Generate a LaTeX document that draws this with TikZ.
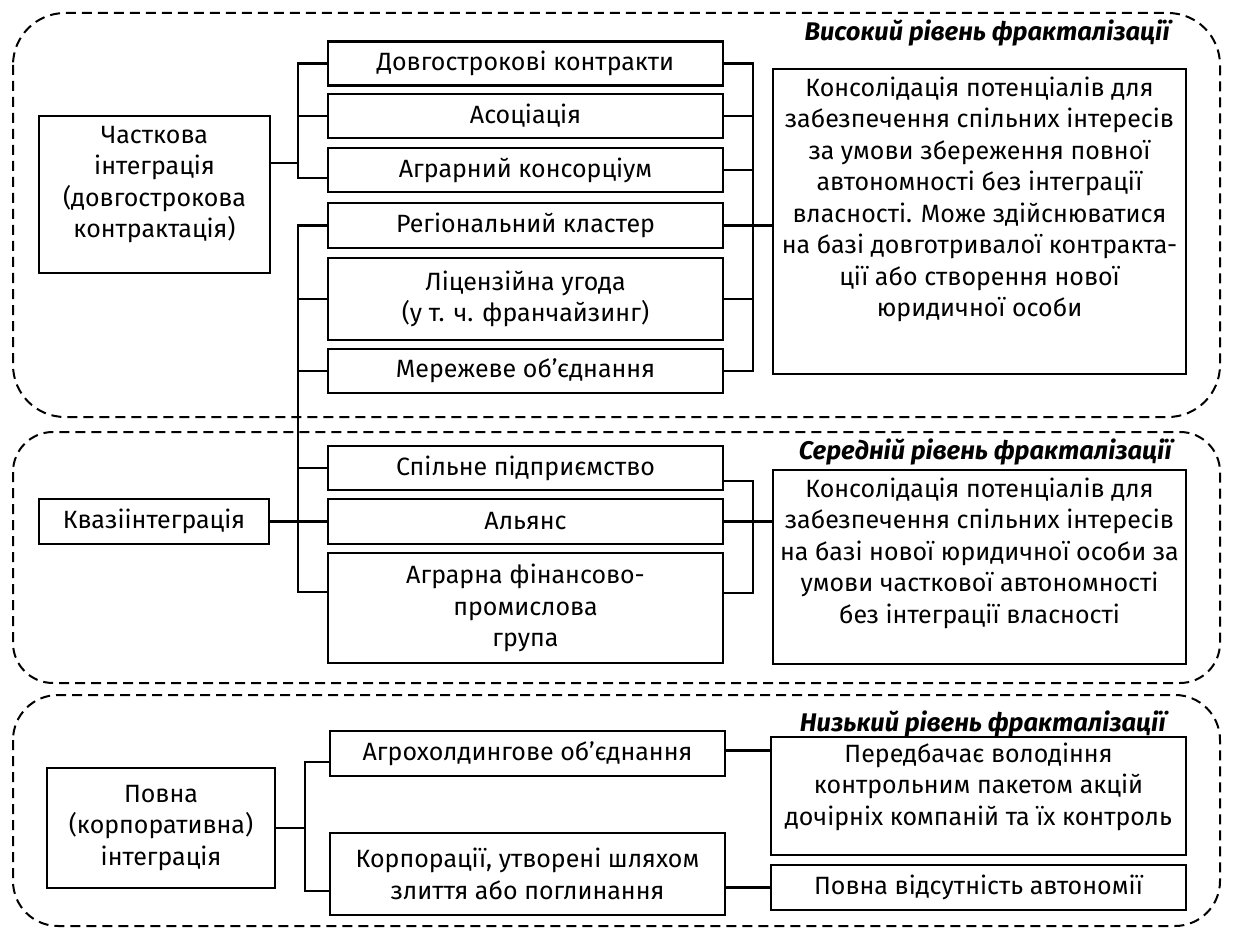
\documentclass[tikz,border=0pt]{standalone}
\usepackage{fontspec}
\setmainfont{Fira Sans}
\usetikzlibrary{calc}
\tikzset{every picture/.style={x=1pt,y=-1pt},
box/.style={draw,line width=2.8pt,inner sep=0pt,align=center,font=\fontsize{25}{31.5}\selectfont},
link/.style={line width=2.2pt},
zone/.style={draw,dash pattern=on 10pt off 6pt,line width=2pt,rounded corners=52pt},
ttl/.style={anchor=east,inner sep=0pt,font=\fontsize{25.5}{30}\selectfont\bfseries\itshape}}

\begin{document}
\begin{tikzpicture}
\useasboundingbox (0,0) rectangle (1256,928);
% levels
\draw[zone] (13,13) rectangle (1220,417);
\draw[zone,rounded corners=40pt] (13,432) rectangle (1220,683);
\draw[zone,rounded corners=45pt] (13,695) rectangle (1220,926);
\node (htitle) at (1170,33) [ttl] {Високий рівень фракталізації};
\node (mtitle) at (1172,452) [ttl] {Середній рівень фракталізації};
\node (ltitle) at (1166,724) [ttl] {Низький рівень фракталізації};
% integration types
\node (part) at (154.5,194.5) [box] {\parbox[c][157pt][t]{231pt}{\centering\vspace*{5pt}\strut Часткова\\інтеграція\\(довгострокова\\контрактація)}};
\node (quasi) at (154,521.5) [box,minimum width=230pt,minimum height=45pt] {Квазіінтеграція};
\node (full) at (161,828) [box,minimum width=228pt,minimum height=120pt] {Повна\\(корпоративна)\\інтеграція};
% forms
\node (dk) at (525.5,63.5) [box,minimum width=395pt,minimum height=44pt] {Довгострокові контракти};
\node (as) at (525.5,116) [box,minimum width=395pt,minimum height=44pt] {Асоціація};
\node (ak) at (525.5,170) [box,minimum width=395pt,minimum height=44pt] {Аграрний консорціум};
\node (rk) at (525.5,225.5) [box,minimum width=395pt,minimum height=45pt] {Регіональний кластер};
\node (lu) at (525.5,299) [box,minimum width=395pt,minimum height=82pt] {Ліцензійна угода\\(у т. ч. франчайзинг)};
\node (mo) at (525.5,371) [box,minimum width=395pt,minimum height=44pt] {Мережеве об’єднання};
\node (sp) at (525.5,468) [box,minimum width=395pt,minimum height=44pt] {Спільне підприємство};
\node (al) at (525.5,521.5) [box,minimum width=395pt,minimum height=45pt] {Альянс};
\node (fpg) at (525.5,608) [box,minimum width=395pt,minimum height=110pt] {Аграрна фінансово-\\промислова\\група};
\node (ah) at (527.5,753.5) [box,minimum width=395pt,minimum height=45pt] {Агрохолдингове об’єднання};
\node (kp) at (527.5,874) [box,minimum width=395pt,minimum height=82pt] {Корпорації, утворені шляхом\\злиття або поглинання};
% descriptions
\node (hdesc) at (979.5,221.5) [box] {\parbox[c][305pt][t]{413pt}{\centering\vspace*{5pt}\strut Консолідація потенціалів для\\забезпечення спільних інтересів\\за умови збереження повної\\автономності без інтеграції\\власності. Може здійснюватися\\на базі довготривалої контракта-\\ції або створення нової\\юридичної особи}};
\node (mdesc) at (979.5,567) [box] {\parbox[c][194pt][t]{413pt}{\centering\vspace*{5pt}\strut Консолідація потенціалів для\\забезпечення спільних інтересів\\на базі нової юридичної особи за\\умови часткової автономності\\без інтеграції власності}};
\node (ldesc1) at (978.5,796) [box] {\parbox[c][118pt][t]{415pt}{\centering\vspace*{3pt}\strut Передбачає володіння\\контрольним пакетом акцій\\дочірніх компаній та їх контроль}};
\node (ldesc2) at (978.5,887.5) [box,minimum width=415pt,minimum height=45pt] {Повна відсутність автономії};
% left buses
\coordinate (jA) at (298,163);
\coordinate (jB) at (298,521.5);
\coordinate (jE) at (305,828);
\draw[link] (part.east |- jA) -- (jA);
\draw[link] (dk.west) -| (jA);
\draw[link] (as.west) -| (jA);
\draw[link] ($(ak.west)+(0,8)$) -| (jA);
\draw[link] (quasi) -- (al);
\draw[link] (rk.west) -| (jB);
\draw[link] (lu.west) -| (jB);
\draw[link] (mo.west) -| (jB);
\draw[link] (sp.west) -| (jB);
\draw[link] ($(fpg.west)+(0,-16)$) -| (jB);
\draw[link] (full) -- (jE);
\draw[link] ($(ah.west)+(0,8.5)$) -| (jE);
\draw[link] ($(kp.west)+(0,17)$) -| (jE);
% right buses
\coordinate (jC) at (753,225.5);
\coordinate (jD) at (753,521.5);
\draw[link] (dk.east) -| (jC);
\draw[link] (as.east) -| (jC);
\draw[link] (ak.east) -| (jC);
\draw[link] (lu.east) -| (jC);
\draw[link] (mo.east) -| (jC);
\draw[link] (rk.east) -- (hdesc.west |- rk.east);
\draw[link] ($(sp.east)+(0,13)$) -| (jD);
\draw[link] ($(fpg.east)+(0,-15)$) -| (jD);
\draw[link] (al.east) -- (mdesc.west |- al.east);
\draw[link] ($(ah.east)+(0,-3)$) -- (ldesc1.west |- 0,750.5);
\draw[link] (kp.east |- ldesc2.west) -- (ldesc2.west);
\end{tikzpicture}
\end{document}
